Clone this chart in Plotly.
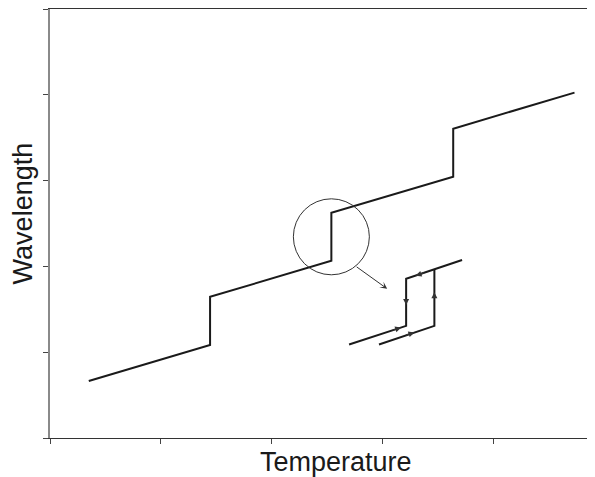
import plotly.graph_objects as go

# main stepped curve (wavelength vs temperature)
main_x = [0.35, 1.445, 1.445, 2.54, 2.54, 3.64, 3.64, 4.735]
main_y = [0.665, 1.085, 1.645, 2.065, 2.625, 3.045, 3.605, 4.025]

# zoomed-in hysteresis loop
loop_a_x = [2.70, 3.215, 3.215, 3.72]
loop_a_y = [1.09, 1.307, 1.855, 2.074]
loop_b_x = [2.97, 3.47, 3.47]
loop_b_y = [1.09, 1.307, 1.965]

# small arrows on the loop: (tip x, tip y, tail x, tail y)
loop_arrows = [
    (3.17, 1.288, 3.08, 1.250),
    (3.29, 1.231, 3.20, 1.193),
    (3.215, 1.55, 3.215, 1.62),
    (3.47, 1.70, 3.47, 1.63),
    (3.30, 1.892, 3.39, 1.931),
]

# magnifier circle center (middle of the jump) and pointer arrow
circle_x = [2.54]
circle_y = [2.345]
pointer = (3.044, 1.739, 2.755, 2.007)

line_col = '#1a1a1a'

fig = go.Figure()

fig.add_trace(go.Scatter(x=main_x, y=main_y, mode='lines',
                         line=dict(color=line_col, width=2), hoverinfo='skip'))
fig.add_trace(go.Scatter(x=loop_a_x, y=loop_a_y, mode='lines',
                         line=dict(color=line_col, width=2), hoverinfo='skip'))
fig.add_trace(go.Scatter(x=loop_b_x, y=loop_b_y, mode='lines',
                         line=dict(color=line_col, width=2), hoverinfo='skip'))
fig.add_trace(go.Scatter(x=circle_x, y=circle_y, mode='markers',
                         marker=dict(symbol='circle-open', size=76, color='#333333',
                                     line=dict(color='#333333', width=1)),
                         hoverinfo='skip'))

for tx, ty, sx, sy in loop_arrows:
    fig.add_annotation(x=tx, y=ty, ax=sx, ay=sy, xref='x', yref='y',
                       axref='x', ayref='y', text='', showarrow=True,
                       arrowhead=2, arrowsize=1.0, arrowwidth=1.2,
                       arrowcolor='#333333')

tx, ty, sx, sy = pointer
fig.add_annotation(x=tx, y=ty, ax=sx, ay=sy, xref='x', yref='y',
                   axref='x', ayref='y', text='', showarrow=True,
                   arrowhead=3, arrowsize=1.2, arrowwidth=1,
                   arrowcolor='#333333')

# axis titles
fig.add_annotation(text='Temperature', xref='paper', yref='paper',
                   x=0.524, y=-0.055, xanchor='center', yanchor='middle',
                   showarrow=False, font=dict(size=27))
fig.add_annotation(text='Wavelength', xref='paper', yref='paper',
                   x=-0.05, y=0.523, xanchor='center', yanchor='middle',
                   textangle=-90, showarrow=False, font=dict(size=27))

# page body adds an 8px offset, margins compensate for it
fig.update_layout(
    width=595, height=477,
    margin=dict(l=42, r=8, t=1, b=47),
    paper_bgcolor='white', plot_bgcolor='white',
    showlegend=False,
    font=dict(family='Liberation Sans, Arial, sans-serif', color='#1a1a1a'),
)

fig.update_xaxes(range=[0, 4.92], tickvals=[0, 1, 2, 3, 4], showticklabels=False,
                 ticks='outside', ticklen=5, tickcolor='#444444',
                 showline=True, linecolor='#333333', linewidth=1.3, mirror=True,
                 showgrid=False, zeroline=False, automargin=False)
fig.update_yaxes(range=[0, 5], tickvals=[0, 1, 2, 3, 4, 5], showticklabels=False,
                 ticks='outside', ticklen=5, tickcolor='#444444',
                 showline=True, linecolor='#8a8a8a', linewidth=2,
                 showgrid=False, zeroline=False, automargin=False)

fig.write_html("out.html")
